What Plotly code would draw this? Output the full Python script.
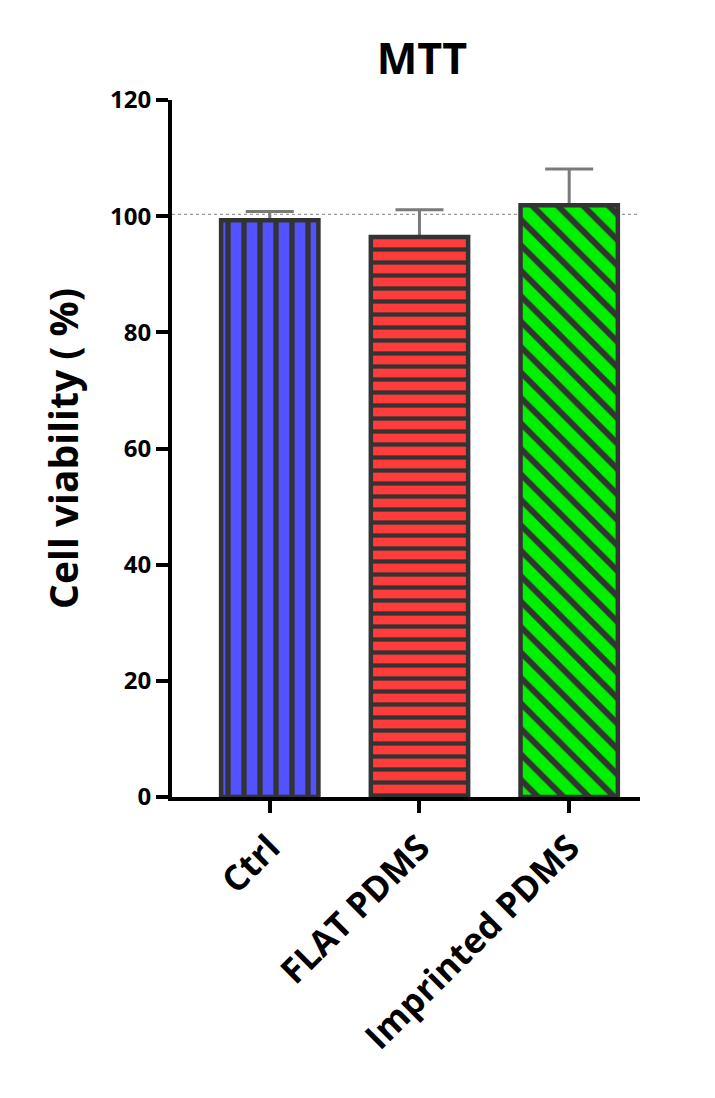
import plotly.graph_objects as go

categories = ["Ctrl", "FLAT PDMS", "Imprinted PDMS"]
viability = [99.3, 96.4, 101.9]
sd_plus = [1.5, 4.7, 6.2]
bar_colors = ["#5252FF", "#FF3B3B", "#00F000"]
patterns = ["|", "-", "\\"]
pattern_sizes = [16, 13, 18]
reference_line = 100.3
y_ticks = [0, 20, 40, 60, 80, 100, 120]

font_family = "Open Sans, Lato, DejaVu Sans, sans-serif"

fig = go.Figure()
for cat, val, err, col, pat, psz in zip(categories, viability, sd_plus, bar_colors, patterns, pattern_sizes):
    # error bar (drawn first so the bar outline hides its lower cap)
    fig.add_trace(go.Bar(
        x=[cat],
        y=[val],
        width=0.65,
        marker=dict(color="rgba(0,0,0,0)", line=dict(width=0)),
        error_y=dict(
            type="data",
            symmetric=False,
            array=[err],
            arrayminus=[0],
            color="#7a7a7a",
            thickness=3,
            width=24,
        ),
        showlegend=False,
        hoverinfo="skip",
    ))
    fig.add_trace(go.Bar(
        x=[cat],
        y=[val],
        width=0.65,
        marker=dict(
            color=col,
            line=dict(color="#333333", width=4.5),
            pattern=dict(
                shape=pat,
                fgcolor="#333333",
                fgopacity=1,
                bgcolor=col,
                size=psz,
                solidity=0.33,
                fillmode="overlay",
            ),
        ),
        showlegend=False,
    ))

fig.add_shape(
    type="line", xref="paper", x0=0, x1=1, yref="y",
    y0=reference_line, y1=reference_line,
    line=dict(color="#9a9a9a", width=1.2, dash="dot"),
    layer="below",
)

fig.update_layout(
    width=715, height=1098,
    margin=dict(l=172, r=75, t=100, b=301),
    plot_bgcolor="white", paper_bgcolor="white",
    barmode="overlay",
    title=dict(text="<b>MTT</b>", xref="paper", x=0.534, xanchor="center",
               yref="container", y=0.946, yanchor="middle",
               font=dict(family=font_family, size=43, color="black")),
    font=dict(family=font_family, color="black"),
)

fig.update_yaxes(
    range=[0, 120], tickvals=y_ticks, ticktext=[f"<b>{v}</b>" for v in y_ticks],
    showgrid=False, zeroline=False,
    showline=True, linecolor="black", linewidth=4,
    ticks="outside", ticklen=12, tickwidth=4, tickcolor="black",
    tickfont=dict(family=font_family, size=24, color="black"),
    title=dict(text="<b>Cell viability ( %)</b>", font=dict(family=font_family, size=39, color="black"), standoff=20),
)
fig.update_xaxes(
    range=[-0.653, 2.473],
    categoryorder="array", categoryarray=categories,
    tickvals=categories, ticktext=[f"<b>{c}</b>" for c in categories],
    showgrid=False, zeroline=False,
    showline=True, linecolor="black", linewidth=4,
    ticks="outside", ticklen=12, tickwidth=4, tickcolor="black",
    tickangle=-45,
    tickfont=dict(family=font_family, size=35, color="black"),
)

fig.write_html("out.html")
